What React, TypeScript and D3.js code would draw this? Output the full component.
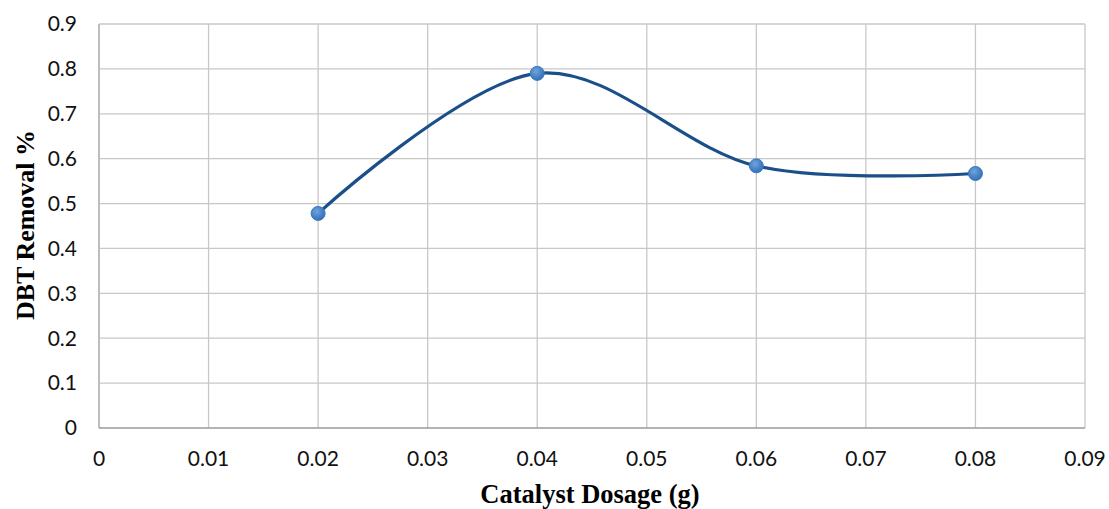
import React from "react";
import * as d3 from "d3";

const dosage = [0.02, 0.04, 0.06, 0.08];
const removal = [0.478, 0.79, 0.584, 0.567];
const xTicks = [0, 0.01, 0.02, 0.03, 0.04, 0.05, 0.06, 0.07, 0.08, 0.09];
const yTicks = [0, 0.1, 0.2, 0.3, 0.4, 0.5, 0.6, 0.7, 0.8, 0.9];

const W = 1109;
const H = 509;
const left = 99;
const right = 1085;
const top = 24;
const bottom = 428;

export default function App() {
  const x = d3.scaleLinear().domain([0, 0.09]).range([left, right]);
  const y = d3.scaleLinear().domain([0, 0.9]).range([bottom, top]);
  const pts = dosage.map((d, i) => [x(d), y(removal[i])] as [number, number]);
  const line = d3.line().curve(d3.curveCardinal.tension(0))(pts) || "";
  const tickFont = "Lato, 'Open Sans', sans-serif";
  const titleFont = "'Liberation Serif', 'Times New Roman', serif";

  return (
    <svg
      width={W}
      height={H}
      style={{ position: "absolute", left: 0, top: 0, background: "#fff" }}
    >
      <defs>
        <radialGradient id="marker" cx="40%" cy="35%" r="70%">
          <stop offset="0%" stopColor="#6fa3dc" />
          <stop offset="100%" stopColor="#2f6db5" />
        </radialGradient>
      </defs>
      {/* grid */}
      {xTicks.map((t) => (
        <line
          key={"gx" + t}
          x1={x(t)}
          x2={x(t)}
          y1={top}
          y2={bottom}
          stroke={t === 0 ? "#9a9a9a" : "#c8c8c8"}
          strokeWidth={1.3}
        />
      ))}
      {yTicks.map((t) => (
        <line
          key={"gy" + t}
          x1={left}
          x2={right}
          y1={y(t)}
          y2={y(t)}
          stroke={t === 0 ? "#9a9a9a" : "#c8c8c8"}
          strokeWidth={1.3}
        />
      ))}
      {/* tick labels */}
      {yTicks.map((t) => (
        <text
          key={"ly" + t}
          x={77}
          y={y(t)}
          dy="0.35em"
          textAnchor="end"
          fontFamily={tickFont}
          fontSize={21}
          fill="#111"
        >
          {d3.format("~g")(t)}
        </text>
      ))}
      {xTicks.map((t) => (
        <text
          key={"lx" + t}
          x={x(t)}
          y={459}
          dy="0.35em"
          textAnchor="middle"
          fontFamily={tickFont}
          fontSize={21}
          fill="#111"
        >
          {d3.format("~g")(t)}
        </text>
      ))}
      {/* axis titles */}
      <text
        x={590}
        y={494}
        dy="0.35em"
        textAnchor="middle"
        fontFamily={titleFont}
        fontWeight="bold"
        fontSize={26.5}
        fill="#000"
      >
        Catalyst Dosage (g)
      </text>
      <text
        transform={`translate(25,${225}) rotate(-90)`}
        dy="0.35em"
        textAnchor="middle"
        fontFamily={titleFont}
        fontWeight="bold"
        fontSize={26}
        fill="#000"
      >
        DBT Removal %
      </text>
      {/* series */}
      <path d={line} fill="none" stroke="#1a4f8a" strokeWidth={3.2} />
      {pts.map((p, i) => (
        <circle
          key={"m" + i}
          cx={p[0]}
          cy={p[1]}
          r={7}
          fill="url(#marker)"
          stroke="#3a78c0"
          strokeWidth={1}
        />
      ))}
    </svg>
  );
}
